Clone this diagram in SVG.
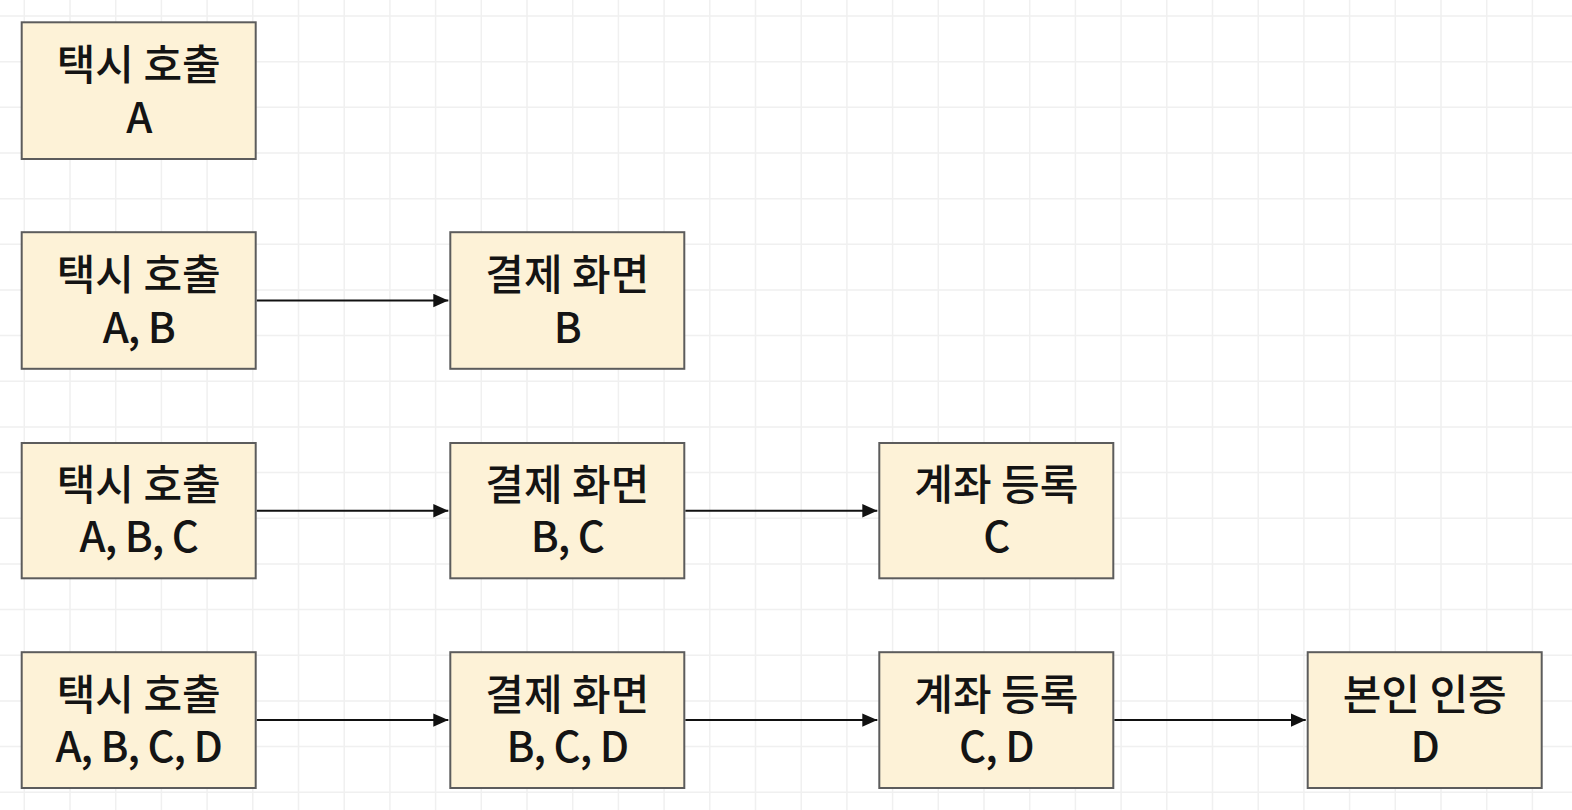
<svg xmlns="http://www.w3.org/2000/svg" width="1572" height="810" viewBox="0 0 1572 810">
<style>
.grid{fill:none;stroke:#f0f0f0;stroke-width:1.5}
.box{fill:#fdf2d7;stroke:#5c5c5c;stroke-width:2}
.t{font-family:"Noto Sans CJK KR","Noto Sans",sans-serif;font-size:42px;font-weight:500;fill:#141414;text-anchor:middle}
.l2{letter-spacing:-1px}
.arr{stroke:#111;stroke-width:2;fill:none;marker-end:url(#ah)}
</style>
<defs>
<marker id="ah" markerUnits="userSpaceOnUse" markerWidth="16" markerHeight="14" refX="15" refY="7" orient="auto">
<path d="M0,0.3 L15,7 L0,13.7 z" fill="#111"/>
</marker>
</defs>
<rect width="1572" height="810" fill="#ffffff"/>
<path class="grid" d="M24.3,0V810M70,0V810M115.7,0V810M161.4,0V810M207.1,0V810M252.8,0V810M298.5,0V810M344.2,0V810M389.9,0V810M435.6,0V810M481.3,0V810M527,0V810M572.7,0V810M618.4,0V810M664.1,0V810M709.8,0V810M755.5,0V810M801.2,0V810M846.9,0V810M892.6,0V810M938.3,0V810M984,0V810M1029.7,0V810M1075.4,0V810M1121.1,0V810M1166.8,0V810M1212.5,0V810M1258.2,0V810M1303.9,0V810M1349.6,0V810M1395.3,0V810M1441,0V810M1486.7,0V810M1532.4,0V810M0,16H1572M0,61.66H1572M0,107.32H1572M0,152.98H1572M0,198.64H1572M0,244.3H1572M0,289.96H1572M0,335.62H1572M0,381.28H1572M0,426.94H1572M0,472.6H1572M0,518.26H1572M0,563.92H1572M0,609.58H1572M0,655.24H1572M0,700.9H1572M0,746.56H1572M0,792.22H1572"/>

<g id="connectors">
<line class="arr" x1="256.7" y1="300.5" x2="448.3" y2="300.5"/>
<line class="arr" x1="256.7" y1="510.7" x2="448.3" y2="510.7"/>
<line class="arr" x1="685.3" y1="510.7" x2="877.3" y2="510.7"/>
<line class="arr" x1="256.7" y1="720.1" x2="448.3" y2="720.1"/>
<line class="arr" x1="685.3" y1="720.1" x2="877.3" y2="720.1"/>
<line class="arr" x1="1114.3" y1="720.1" x2="1305.7" y2="720.1"/>
</g>

<g id="r1-taxi">
<rect class="box" x="21.7" y="22.3" width="234" height="136.7"/>
<text class="t"><tspan x="138.7" y="80.2">택시 호출</tspan><tspan class="l2" x="138.7" dy="52.5">A</tspan></text>
</g>

<g id="r2-taxi">
<rect class="box" x="21.7" y="232.2" width="234" height="136.6"/>
<text class="t"><tspan x="138.7" y="290">택시 호출</tspan><tspan class="l2" x="138.7" dy="52.5">A, B</tspan></text>
</g>
<g id="r2-pay">
<rect class="box" x="450.3" y="232.2" width="234" height="136.6"/>
<text class="t"><tspan x="567.3" y="290">결제 화면</tspan><tspan class="l2" x="567.3" dy="52.5">B</tspan></text>
</g>

<g id="r3-taxi">
<rect class="box" x="21.7" y="443" width="234" height="135.3"/>
<text class="t"><tspan x="138.7" y="500.2">택시 호출</tspan><tspan class="l2" x="138.7" dy="52">A, B, C</tspan></text>
</g>
<g id="r3-pay">
<rect class="box" x="450.3" y="443" width="234" height="135.3"/>
<text class="t"><tspan x="567.3" y="500.2">결제 화면</tspan><tspan class="l2" x="567.3" dy="52">B, C</tspan></text>
</g>
<g id="r3-account">
<rect class="box" x="879.3" y="443" width="234" height="135.3"/>
<text class="t"><tspan x="996.3" y="500.2">계좌 등록</tspan><tspan class="l2" x="996.3" dy="52">C</tspan></text>
</g>

<g id="r4-taxi">
<rect class="box" x="21.7" y="652.2" width="234" height="135.8"/>
<text class="t"><tspan x="138.7" y="709.6">택시 호출</tspan><tspan class="l2" x="138.7" dy="52.4">A, B, C, D</tspan></text>
</g>
<g id="r4-pay">
<rect class="box" x="450.3" y="652.2" width="234" height="135.8"/>
<text class="t"><tspan x="567.3" y="709.6">결제 화면</tspan><tspan class="l2" x="567.3" dy="52.4">B, C, D</tspan></text>
</g>
<g id="r4-account">
<rect class="box" x="879.3" y="652.2" width="234" height="135.8"/>
<text class="t"><tspan x="996.3" y="709.6">계좌 등록</tspan><tspan class="l2" x="996.3" dy="52.4">C, D</tspan></text>
</g>
<g id="r4-verify">
<rect class="box" x="1307.7" y="652.2" width="234" height="135.8"/>
<text class="t"><tspan x="1424.7" y="709.6">본인 인증</tspan><tspan class="l2" x="1424.7" dy="52.4">D</tspan></text>
</g>
</svg>
